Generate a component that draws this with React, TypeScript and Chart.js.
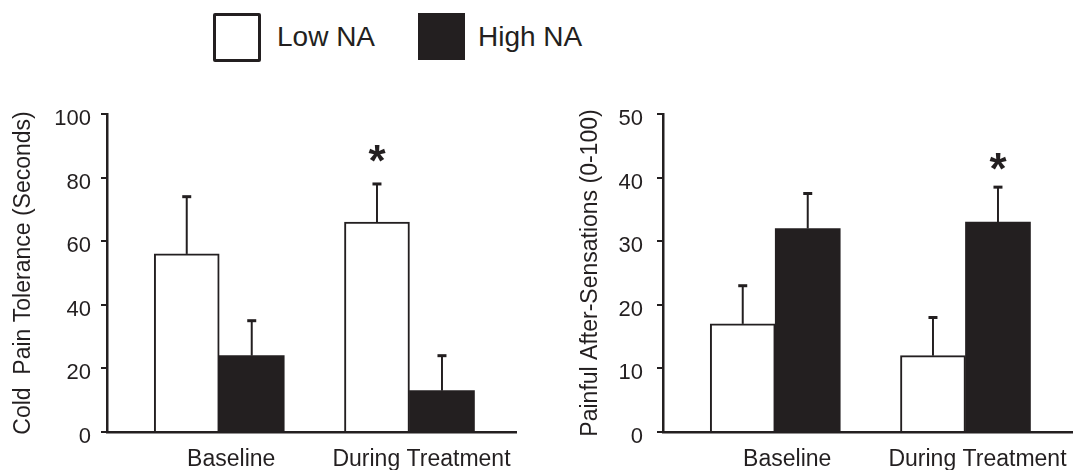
import React, { useEffect, useRef } from "react";
import { Chart, registerables } from "chart.js";

Chart.register(...registerables);

// ---------- data ----------
const groupLabels = ["Baseline", "During Treatment"];
const groupPositions = [1, 2];
const seriesNames = ["Low NA", "High NA"];

const coldLow = [56, 66];
const coldHigh = [24, 13];
const coldLowErr = [18, 12];
const coldHighErr = [11, 11];
const coldTicks = [0, 20, 40, 60, 80, 100];
const coldStars = [{ series: 0, group: 1, at: 88 }];

const painLow = [17, 12];
const painHigh = [32, 33];
const painLowErr = [6, 6];
const painHighErr = [5.5, 5.5];
const painTicks = [0, 10, 20, 30, 40, 50];
const painStars = [{ series: 1, group: 1, at: 42.8 }];

// ---------- style ----------
const ink = "#231f20";
const family = "'Liberation Sans', Arial, Helvetica, sans-serif";

type PanelProps = {
  low: number[];
  high: number[];
  lowErr: number[];
  highErr: number[];
  yTicks: number[];
  yTitle: string;
  stars: { series: number; group: number; at: number }[];
  width: number;
  height: number;
  axisWidth: number;
  tickPad: number;
  titlePad: number;
  padRight: number;
};

function Panel(p: PanelProps) {
  const ref = useRef<HTMLCanvasElement | null>(null);
  useEffect(() => {
    if (!ref.current) return;
    const values = [p.low, p.high];
    const errs = [p.lowErr, p.highErr];
    const errorBars = {
      id: "errorBars",
      afterDatasetsDraw(chart: any) {
        const ctx = chart.ctx;
        const y = chart.scales.y;
        values.forEach((vals, di) => {
          const meta = chart.getDatasetMeta(di);
          meta.data.forEach((el: any, j: number) => {
            const top = y.getPixelForValue(vals[j] + errs[di][j]);
            ctx.save();
            ctx.strokeStyle = ink;
            ctx.lineWidth = 2;
            ctx.beginPath();
            ctx.moveTo(el.x, el.y);
            ctx.lineTo(el.x, top);
            ctx.stroke();
            ctx.lineWidth = 3;
            ctx.beginPath();
            ctx.moveTo(el.x - 4.5, top);
            ctx.lineTo(el.x + 4.5, top);
            ctx.stroke();
            ctx.restore();
          });
        });
      },
    };
    const starPlugin = {
      id: "stars",
      afterDatasetsDraw(chart: any) {
        const ctx = chart.ctx;
        const y = chart.scales.y;
        const size = 44;
        p.stars.forEach((s) => {
          const el = chart.getDatasetMeta(s.series).data[s.group];
          ctx.save();
          ctx.fillStyle = ink;
          ctx.font = `bold ${size}px ${family}`;
          ctx.textAlign = "center";
          ctx.textBaseline = "alphabetic";
          ctx.fillText("*", el.x, y.getPixelForValue(s.at) + size * 0.55);
          ctx.restore();
        });
      },
    };
    const chart = new Chart(ref.current, {
      type: "bar",
      data: {
        datasets: [
          {
            label: seriesNames[0],
            data: groupPositions.map((x, i) => ({ x, y: p.low[i] })),
            backgroundColor: "#ffffff",
            borderColor: ink,
            borderWidth: 2,
            barThickness: 65,
          },
          {
            label: seriesNames[1],
            data: groupPositions.map((x, i) => ({ x, y: p.high[i] })),
            backgroundColor: ink,
            borderColor: ink,
            borderWidth: 0,
            barThickness: 65,
          },
        ],
      } as any,
      options: {
        animation: false,
        responsive: false,
        devicePixelRatio: 1,
        layout: { padding: { left: 0, top: 34, right: p.padRight, bottom: 0 } },
        plugins: { legend: { display: false }, tooltip: { enabled: false } },
        scales: {
          x: {
            type: "linear",
            min: 0.41,
            max: 2.56,
            offset: false,
            z: 1,
            afterBuildTicks: (s: any) => {
              s.ticks = groupPositions.map((v) => ({ value: v }));
            },
            afterFit: (s: any) => {
              s.height = 38;
            },
            ticks: {
              callback: (v: any) => groupLabels[groupPositions.indexOf(v)] ?? "",
              font: { family, size: 23 },
              color: ink,
              padding: 14,
              labelOffset: 12,
              maxRotation: 0,
              autoSkip: false,
            },
            grid: { display: false, drawTicks: false, offset: false },
            border: { display: true, color: ink, width: 2.5 },
          },
          y: {
            type: "linear",
            min: p.yTicks[0],
            max: p.yTicks[p.yTicks.length - 1],
            z: 1,
            afterBuildTicks: (s: any) => {
              s.ticks = p.yTicks.map((v) => ({ value: v }));
            },
            afterFit: (s: any) => {
              s.width = p.axisWidth;
            },
            ticks: {
              font: { family, size: 22 },
              color: ink,
              padding: p.tickPad,
              labelOffset: 5,
            },
            grid: {
              display: true,
              drawOnChartArea: false,
              drawTicks: true,
              tickLength: 6,
              color: ink,
              lineWidth: 2,
            },
            border: { display: true, color: ink, width: 2.5 },
            title: {
              display: true,
              text: p.yTitle,
              font: { family, size: 23, lineHeight: 1.2 },
              color: ink,
              padding: { top: p.titlePad, bottom: 0 },
            },
          },
        },
      } as any,
      plugins: [errorBars, starPlugin],
    });
    return () => chart.destroy();
  }, []);
  return <canvas ref={ref} width={p.width} height={p.height} style={{ display: "block" }} />;
}

const legendText: React.CSSProperties = {
  position: "absolute",
  top: 23,
  fontFamily: family,
  fontSize: 28,
  lineHeight: "28px",
  color: ink,
  whiteSpace: "nowrap",
};

export default function App() {
  return (
    <div
      style={{
        position: "fixed",
        left: 0,
        top: 0,
        width: 1075,
        height: 470,
        background: "#ffffff",
        overflow: "hidden",
      }}
    >
      <div
        style={{
          position: "absolute",
          left: 213,
          top: 13,
          width: 48,
          height: 49,
          boxSizing: "border-box",
          border: `3px solid ${ink}`,
          borderRadius: 2,
          background: "#fff",
        }}
      />
      <div style={{ ...legendText, left: 277 }}>{seriesNames[0]}</div>
      <div
        style={{
          position: "absolute",
          left: 418,
          top: 13,
          width: 47,
          height: 47,
          background: ink,
        }}
      />
      <div style={{ ...legendText, left: 478 }}>{seriesNames[1]}</div>

      <div style={{ position: "absolute", left: 0, top: 80 }}>
        <Panel
          low={coldLow}
          high={coldHigh}
          lowErr={coldLowErr}
          highErr={coldHighErr}
          yTicks={coldTicks}
          yTitle="Cold  Pain Tolerance (Seconds)"
          stars={coldStars}
          width={540}
          height={390}
          axisWidth={107}
          tickPad={10}
          titlePad={10}
          padRight={24}
        />
      </div>
      <div style={{ position: "absolute", left: 540, top: 80 }}>
        <Panel
          low={painLow}
          high={painHigh}
          lowErr={painLowErr}
          highErr={painHighErr}
          yTicks={painTicks}
          yTitle="Painful After-Sensations (0-100)"
          stars={painStars}
          width={535}
          height={390}
          axisWidth={123}
          tickPad={14}
          titlePad={37}
          padRight={3}
        />
      </div>
    </div>
  );
}
